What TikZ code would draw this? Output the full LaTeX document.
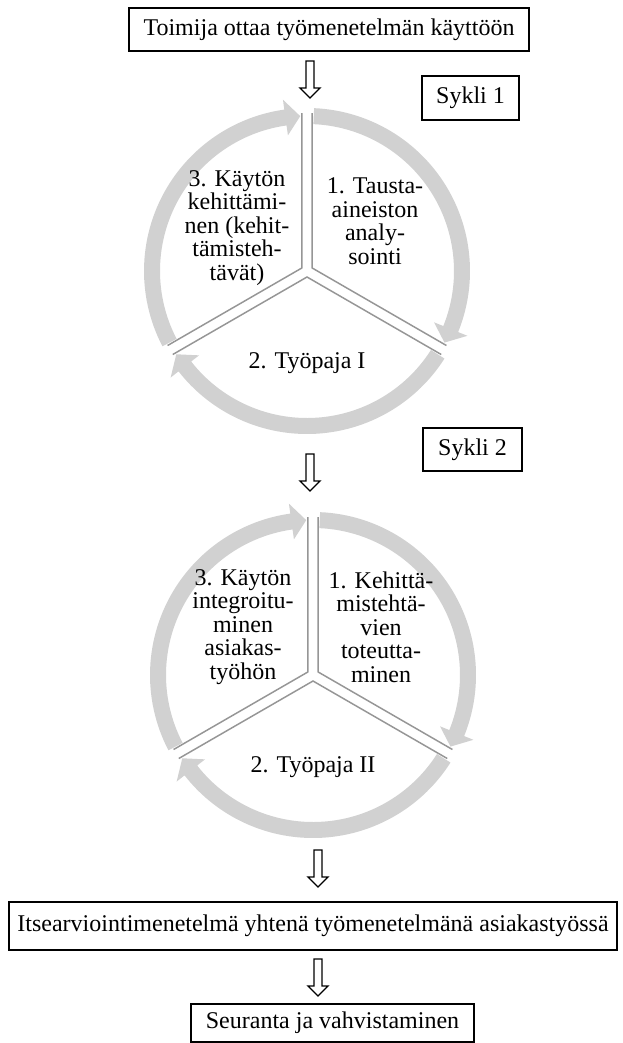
\documentclass[tikz,border=0pt]{standalone}
\usepackage{fontspec}
\setmainfont{Liberation Serif}
\definecolor{arcgray}{RGB}{209,209,209}
\definecolor{divgray}{RGB}{150,150,150}
\newcommand\cyclearrow[2]{%
  \fill[band] (#1:163) arc[start angle=#1, end angle={#2+5.5}, radius=163]
    -- ({#2+5.5}:173) -- (#2:155) -- ({#2+5.5}:137) -- ({#2+5.5}:147)
    arc[start angle={#2+5.5}, end angle=#1, radius=147] -- cycle;}
\newcommand\cycledividers{%
  \begin{scope}[shift={(30:6)}]\draw[divider] (90:155) -- (0,0) -- (-30:155);\end{scope}
  \begin{scope}[shift={(270:6)}]\draw[divider] (-30:155) -- (0,0) -- (210:155);\end{scope}
  \begin{scope}[shift={(150:6)}]\draw[divider] (210:155) -- (0,0) -- (90:155);\end{scope}
  \cyclearrow{87.5}{-27.5}
  \cyclearrow{-32.5}{-147.5}
  \cyclearrow{207.5}{92.5}}
\begin{document}
\begin{tikzpicture}[x=0.75pt,y=-0.75pt,
  box/.style={draw=black, line width=0.9pt, fill=white, inner sep=0pt,
    font=\fontsize{18}{21}\selectfont},
  lbl/.style={align=center, inner sep=0pt, font=\fontsize{18}{17.6}\selectfont},
  band/.style={fill=arcgray},
  divider/.style={draw=divgray, line width=1.1pt},
  openarrow/.style={draw=black, line width=1pt, fill=white, line join=miter},
  blockdown/.pic={\draw[openarrow] (-4,0) -- (-4,27) -- (-10,27) -- (0,37) -- (10,27) -- (4,27) -- (4,0) -- cycle;}]
\useasboundingbox (0,0) rectangle (622,1043);
\fill[white] (0,0) rectangle (622,1043);

% boxes
\node[box, minimum width=300pt, minimum height=32.25pt] (start) at (329,29.5) {Toimija ottaa työmenetelmän käyttöön};
\node[box, minimum width=72.75pt, minimum height=33pt] (s1) at (470.5,98) {Sykli 1};
\node[box, minimum width=74.25pt, minimum height=32.25pt] (s2) at (472.5,449.5) {Sykli 2};
\node[box, minimum width=456pt, minimum height=36pt] (itse) at (313,926) {Itsearviointimenetelmä yhtenä työmenetelmänä asiakastyössä};
\node[box, minimum width=212.25pt, minimum height=28.5pt] (seur) at (332.5,1023) {Seuranta ja vahvistaminen};

% open arrows
\pic at (310,61) {blockdown};
\pic at (310,454) {blockdown};
\pic at (318,850) {blockdown};
\pic at (318,959) {blockdown};

% cycle 1
\begin{scope}[shift={(307,271)}, y=0.75pt]
  \cycledividers
\end{scope}
\node[lbl] (c1a) at (375,221) {1. Tausta-\\aineiston\\analy-\\sointi};
\node[lbl] (c1b) at (307,363) {2. Työpaja I};
\node[lbl] (c1c) at (237,228) {3. Käytön\\kehittämi-\\nen (kehit-\\tämisteh-\\tävät)};

% cycle 2
\begin{scope}[shift={(313,675)}, y=0.75pt]
  \cycledividers
\end{scope}
\node[lbl] (c2a) at (381,627) {1. Kehittä-\\mistehtä-\\vien\\toteutta-\\minen};
\node[lbl] (c2b) at (313,767) {2. Työpaja II};
\node[lbl] (c2c) at (243,627) {3. Käytön\\integroitu-\\minen\\asiakas-\\työhön};
\end{tikzpicture}
\end{document}
